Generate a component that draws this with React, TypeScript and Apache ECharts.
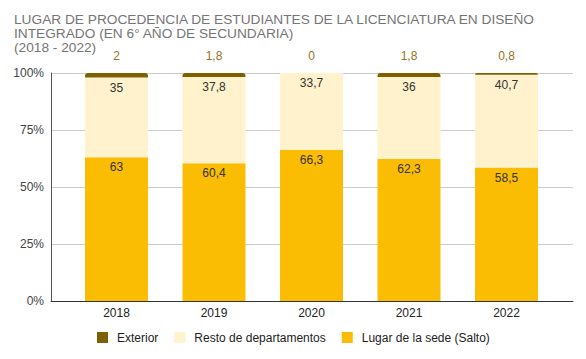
import React, { useEffect, useRef } from "react";
import * as echarts from "echarts";

const years = ["2018", "2019", "2020", "2021", "2022"];
const exterior = [2, 1.8, 0, 1.8, 0.8];
const resto = [35, 37.8, 33.7, 36, 40.7];
const lugar = [63, 60.4, 66.3, 62.3, 58.5];
const yTicks = [0, 25, 50, 75, 100];
const titleLines = [
  "LUGAR DE PROCEDENCIA DE ESTUDIANTES DE LA LICENCIATURA EN DISEÑO",
  "INTEGRADO (EN 6° AÑO DE SECUNDARIA)",
  "(2018 - 2022)",
];

const fmt = (v: number) => String(v).replace(".", ",");

export default function App() {
  const ref = useRef<HTMLDivElement>(null);
  useEffect(() => {
    const chart = echarts.init(ref.current!, null, { renderer: "svg" });
    const font = "Liberation Sans, Arial, sans-serif";
    const gridTop = 73;
    const gridBottom = 58;
    const titleY = [19.5, 33.5, 47.5];
    chart.setOption({
      animation: false,
      textStyle: { fontFamily: font },
      graphic: titleLines.map((t, i) => ({
        type: "text",
        x: 14,
        y: titleY[i],
        style: {
          text: t,
          fontFamily: font,
          fontSize: 13.7,
          fill: "#757575",
          verticalAlign: "middle",
          textVerticalAlign: "middle",
        },
      })),
      legend: {
        left: 97,
        top: 331.5,
        padding: 0,
        itemWidth: 11,
        itemHeight: 11,
        itemGap: 16,
        icon: "rect",
        textStyle: { fontFamily: font, fontSize: 12, color: "#222", padding: [0, 0, 0, 4] },
        data: ["Exterior", "Resto de departamentos", "Lugar de la sede (Salto)"],
      },
      grid: [
        { left: 51, right: 13, top: gridTop, bottom: gridBottom },
        { left: 67.75, width: 487.5, top: gridTop, bottom: gridBottom },
      ],
      xAxis: [
        {
          gridIndex: 0,
          type: "value",
          min: 0,
          max: 1,
          axisLine: { show: true, lineStyle: { color: "#333", width: 1 } },
          axisTick: { show: false },
          axisLabel: { show: false },
          splitLine: { show: false },
        },
        {
          gridIndex: 1,
          type: "category",
          data: years,
          axisLine: { show: false },
          axisTick: { show: false },
          axisLabel: { color: "#222", fontSize: 12, fontFamily: font, margin: 6 },
        },
      ],
      yAxis: [
        {
          gridIndex: 0,
          type: "value",
          min: 0,
          max: 100,
          interval: 25,
          axisLine: { show: true, lineStyle: { color: "#555", width: 1 } },
          axisTick: { show: false },
          axisLabel: {
            color: "#444",
            fontSize: 12,
            fontFamily: font,
            margin: 7,
            formatter: (v: number) => (yTicks.includes(v) ? v + "%" : ""),
          },
          splitLine: { show: true, lineStyle: { color: "#ccc", width: 1 } },
        },
        {
          gridIndex: 1,
          type: "value",
          min: 0,
          max: 100,
          show: false,
          splitLine: { show: false },
        },
      ],
      series: [
        {
          name: "Lugar de la sede (Salto)",
          type: "bar",
          stack: "t",
          xAxisIndex: 1,
          yAxisIndex: 1,
          barWidth: 63,
          data: lugar,
          itemStyle: { color: "#fbbc04" },
          label: {
            show: true,
            position: "insideTop",
            distance: 4,
            color: "#333",
            fontSize: 12,
            fontFamily: font,
            formatter: (p: any) => fmt(p.value),
          },
        },
        {
          name: "Resto de departamentos",
          type: "bar",
          stack: "t",
          xAxisIndex: 1,
          yAxisIndex: 1,
          barWidth: 63,
          data: resto,
          itemStyle: { color: "#fff2cc" },
          label: {
            show: true,
            position: "insideTop",
            distance: 4,
            color: "#333",
            fontSize: 12,
            fontFamily: font,
            formatter: (p: any) => fmt(p.value),
          },
        },
        {
          name: "Exterior",
          type: "bar",
          stack: "t",
          xAxisIndex: 1,
          yAxisIndex: 1,
          barWidth: 63,
          data: exterior,
          itemStyle: { color: "#7f6000", borderRadius: [3, 3, 0, 0] },
          label: {
            show: true,
            position: "top",
            distance: 11,
            color: "#967321",
            fontSize: 12,
            fontFamily: font,
            formatter: (p: any) => fmt(p.value),
          },
        },
      ],
    });
    return () => chart.dispose();
  }, []);
  return <div ref={ref} style={{ width: 586, height: 359, position: "absolute", left: 0, top: 0 }} />;
}
